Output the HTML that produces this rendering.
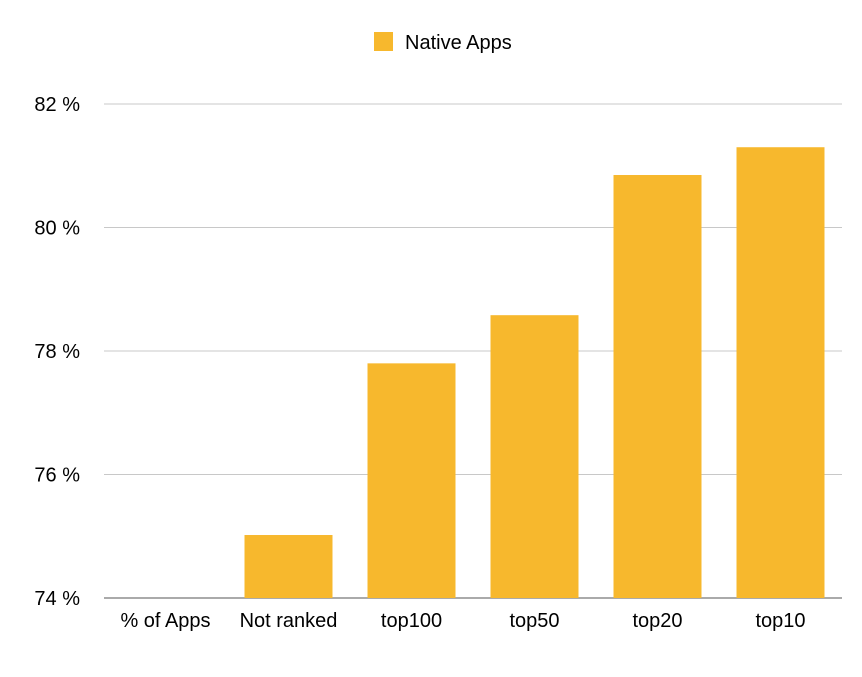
<!DOCTYPE html>
<html><head><meta charset="utf-8"><style>
body{margin:0;background:#fff;font-family:"Liberation Sans",Arial,sans-serif;}
svg text{font-family:"Liberation Sans",Arial,sans-serif;fill:#000;}
</style></head><body>
<svg id="chart" width="862" height="672">
<g>
<rect x="374" y="32" width="19" height="19" fill="#F7B82D"></rect>
<text x="405" y="49" font-size="20">Native Apps</text>
</g>
<g id="grid"></g><g id="bars"></g><g id="labels"></g>
</svg>
<script>
const categories=["% of Apps","Not ranked","top100","top50","top20","top10"];
const values=[74,75.02,77.8,78.58,80.85,81.3];
const ticks=[74,76,78,80,82];
const svg=document.getElementById('chart');
const NS='http://www.w3.org/2000/svg';
const x0=104,x1=842,yMin=74,yMax=82,py0=598,py1=104;
const y=v=>py0-(v-yMin)/(yMax-yMin)*(py0-py1);
const band=(x1-x0)/categories.length;
const xc=i=>x0+band*(i+0.5);
const grid=document.getElementById('grid'),bars=document.getElementById('bars'),labels=document.getElementById('labels');
ticks.forEach(t=>{
 const l=document.createElementNS(NS,'line');
 l.setAttribute('x1',x0);l.setAttribute('x2',x1);l.setAttribute('y1',y(t));l.setAttribute('y2',y(t));
 l.setAttribute('stroke',t===yMin?'#555':'#c8c8c8');l.setAttribute('stroke-width','1');
 
 
 grid.appendChild(l);
 const tx=document.createElementNS(NS,'text');
 tx.setAttribute('x',80);tx.setAttribute('y',y(t)+7);tx.setAttribute('text-anchor','end');tx.setAttribute('font-size','20');
 tx.textContent=t+' %';
 
 
 labels.appendChild(tx);
});
categories.forEach((c,i)=>{
 const v=values[i];
 if(v>yMin){
  const r=document.createElementNS(NS,'rect');
  r.setAttribute('x',xc(i)-44);r.setAttribute('width',88);
  r.setAttribute('y',y(v));r.setAttribute('height',py0-y(v));
  r.setAttribute('fill','#F7B82D');
  
  
  bars.appendChild(r);
 }
 const tx=document.createElementNS(NS,'text');
 tx.setAttribute('x',xc(i));tx.setAttribute('y',627);tx.setAttribute('text-anchor','middle');tx.setAttribute('font-size','20');
 tx.textContent=c;
 
 
 labels.appendChild(tx);
});
</script>
</body></html>
